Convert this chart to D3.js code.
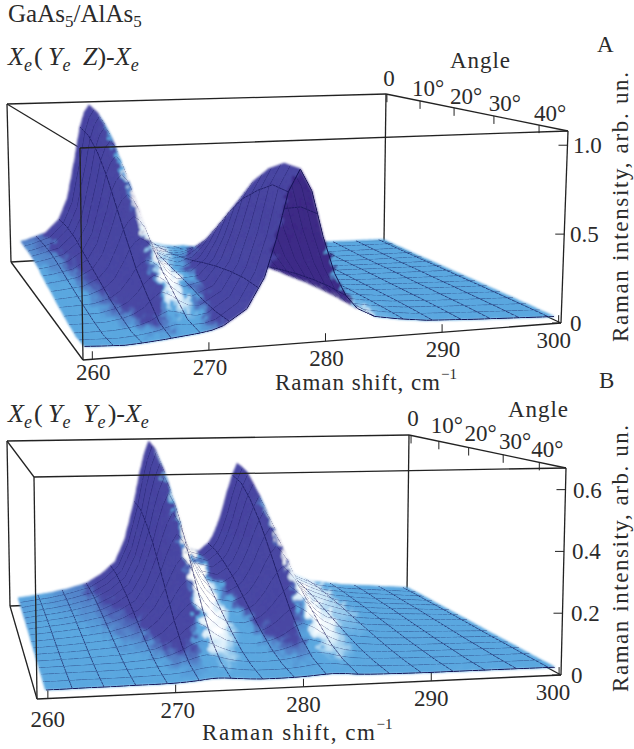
<!DOCTYPE html>
<html>
<head>
	<meta charset="utf-8">
	<title>GaAs5/AlAs5</title>
	<style>
		html, body { margin: 0; padding: 0; background: #fff; }
		text { font-family: "Liberation Serif", serif; fill: #2b2b2b; }
	</style>
</head>
<body>
<div id="chart"></div>
<script src="https://cdnjs.cloudflare.com/ajax/libs/d3/7.8.5/d3.min.js"></script>
<script type="text/javascript">

// tick labels
var shiftTicks = [260, 270, 280, 290, 300];
var angleTicks = [0, 10, 20, 30, 40];
var angleTickLabels = ['0', '10°', '20°', '30°', '40°'];
var intensityTicksA = [0, 0.5, 1.0];
var intensityTicksB = [0, 0.2, 0.4, 0.6];

// angle of each row of the tables below
var angles = [0, 5, 10, 15, 20, 25, 30, 35, 40, 45];

// panel A: one row per angle, one value per shift
var shiftA = [259.5, 261, 263, 264.5, 265.5, 266.5, 267.2, 268, 268.8, 269.5, 270.5, 271.5, 273.5, 275, 276, 277, 278, 279, 280, 281, 282, 283, 284.5, 286.5, 289, 293, 300];
var intensityA = [
	[.13, .15, .19, .28, .42, .73, .98, 1.06, .98, .73, .40, .22, .12, .08, .06, .05, .05, .04, .04, .03, .03, .03, .03, .02, .02, .02, .015],
	[.13, .15, .19, .28, .42, .71, .95, 1.03, .95, .71, .39, .22, .12, .09, .08, .08, .075, .065, .05, .045, .035, .03, .03, .025, .02, .02, .015],
	[.13, .15, .18, .26, .38, .65, .87, .94, .87, .65, .37, .21, .13, .11, .12, .15, .16, .14, .10, .07, .055, .04, .035, .03, .025, .02, .016],
	[.12, .13, .16, .22, .33, .56, .75, .81, .75, .56, .33, .20, .14, .15, .19, .25, .28, .24, .17, .115, .08, .06, .045, .037, .03, .024, .018],
	[.10, .11, .13, .18, .27, .45, .60, .65, .60, .46, .28, .18, .15, .19, .27, .375, .43, .37, .255, .17, .11, .08, .056, .045, .036, .03, .02],
	[.083, .09, .10, .14, .20, .325, .43, .47, .44, .34, .22, .16, .16, .245, .36, .52, .595, .51, .35, .23, .146, .10, .07, .055, .042, .033, .021],
	[.067, .07, .076, .10, .14, .216, .283, .307, .289, .234, .17, .14, .17, .29, .445, .64, .74, .64, .44, .28, .177, .12, .083, .064, .048, .037, .023],
	[.053, .052, .053, .069, .09, .13, .18, .22, .20, .16, .12, .11, .18, .327, .51, .73, .85, .73, .508, .321, .203, .135, .092, .071, .054, .041, .024],
	[.043, .041, .039, .046, .055, .07, .09, .105, .10, .09, .085, .10, .186, .35, .54, .80, .915, .80, .54, .35, .22, .146, .099, .076, .057, .044, .025],
	[.055, .05, .045, .05, .055, .06, .065, .07, .075, .08, .09, .11, .19, .35, .55, .80, .92, .80, .55, .35, .225, .15, .10, .078, .058, .044, .025]
];

// panel B
var shiftB = [259.5, 261, 263, 265, 267, 268.5, 270, 271, 272, 272.8, 273.5, 274.2, 275, 276, 277, 278.5, 279.8, 280.8, 281.8, 282.5, 283.4, 284.4, 285.4, 286.5, 288, 290, 293, 300];
var intensityB = [
	[.035, .041, .051, .066, .087, .121, .173, .264, .416, .581, .662, .591, .433, .295, .224, .204, .246, .345, .497, .564, .485, .321, .202, .137, .103, .066, .047, .023],
	[.032, .041, .05, .065, .085, .118, .169, .257, .405, .565, .643, .574, .421, .287, .218, .199, .24, .336, .483, .548, .471, .312, .197, .134, .101, .065, .047, .023],
	[.03, .038, .047, .06, .079, .108, .154, .234, .368, .513, .585, .522, .383, .262, .199, .182, .218, .306, .439, .498, .429, .284, .18, .123, .093, .06, .043, .022],
	[.028, .035, .043, .054, .07, .095, .134, .203, .317, .44, .501, .448, .329, .226, .173, .158, .189, .263, .377, .428, .368, .245, .156, .107, .082, .054, .04, .022],
	[.026, .032, .038, .046, .059, .079, .11, .163, .253, .35, .398, .356, .263, .182, .14, .128, .153, .211, .301, .34, .294, .197, .127, .088, .068, .046, .035, .021],
	[.024, .027, .032, .038, .046, .06, .082, .119, .181, .249, .282, .253, .188, .132, .102, .094, .111, .152, .214, .242, .209, .142, .093, .067, .053, .038, .03, .02],
	[.022, .024, .026, .03, .035, .044, .057, .08, .118, .159, .179, .161, .122, .087, .07, .065, .075, .1, .138, .155, .135, .094, .064, .048, .039, .03, .025, .019],
	[.02, .021, .022, .024, .026, .03, .037, .048, .066, .086, .095, .087, .068, .051, .043, .04, .046, .057, .076, .084, .074, .054, .04, .032, .028, .024, .022, .019],
	[.019, .019, .02, .02, .021, .023, .026, .03, .038, .046, .05, .047, .039, .032, .028, .027, .029, .034, .042, .045, .041, .033, .027, .024, .022, .02, .019, .018],
	[.018, .018, .019, .019, .02, .02, .021, .023, .026, .03, .031, .03, .027, .024, .022, .022, .023, .025, .028, .029, .028, .024, .022, .021, .02, .019, .019, .018]
];

var svg = d3.select('#chart')
.append('svg')
.attr('width', 634)
.attr('height', 749)
.style('display', 'block');

var defs = svg.append('defs');

// the scan in the reference is a little soft
defs.append('filter')
	.attr('id', 'soft')
	.attr('x', '-5%').attr('y', '-5%').attr('width', '110%').attr('height', '110%')
	.append('feGaussianBlur')
	.attr('stdDeviation', 0.45);

// blotchy colour edges inside the surface, the outline stays where it is
var blotch = defs.append('filter')
	.attr('id', 'blotch')
	.attr('x', '-5%').attr('y', '-5%').attr('width', '110%').attr('height', '110%');
blotch.append('feTurbulence')
	.attr('type', 'fractalNoise').attr('baseFrequency', 0.11).attr('numOctaves', 2).attr('seed', 4)
	.attr('result', 'noise');
blotch.append('feDisplacementMap')
	.attr('in', 'SourceGraphic').attr('in2', 'noise').attr('scale', 22)
	.attr('xChannelSelector', 'R').attr('yChannelSelector', 'G')
	.attr('result', 'moved');
blotch.append('feComposite')
	.attr('in', 'moved').attr('in2', 'SourceAlpha').attr('operator', 'in')
	.attr('result', 'inside');
var merge = blotch.append('feMerge').attr('result', 'both');
merge.append('feMergeNode').attr('in', 'SourceGraphic');
merge.append('feMergeNode').attr('in', 'inside');
blotch.append('feGaussianBlur').attr('in', 'both').attr('stdDeviation', 0.8);

// grid layer: cells painted white, lines black, white is keyed out
var keyed = defs.append('filter')
	.attr('id', 'keyed')
	.attr('color-interpolation-filters', 'sRGB')
	.attr('x', '-5%').attr('y', '-5%').attr('width', '110%').attr('height', '110%');
keyed.append('feColorMatrix')
	.attr('type', 'matrix')
	.attr('values', '0 0 0 0 0.07  0 0 0 0 0.07  0 0 0 0 0.33  -1 0 0 1 0');
keyed.append('feGaussianBlur').attr('stdDeviation', 0.25);

var mix = (a, b, t) => a + (b - a) * t;

// colour of the surface from its slope along the shift axis
var slopeColor = d3.scaleLinear()
.domain([-0.3, -0.05, -0.024, -0.008, 0.006, 0.03, 0.3])
.range(['#fbfbd8', '#ffffff', '#d4ebf9', '#5ba8e0', '#5ba8e0', '#4a48a4', '#4744a0'])
.clamp(true);

// the high parts stay dark even where they are flat
var heightShift = d3.scaleLinear().domain([0.15, 0.35]).range([0, 0.05]).clamp(true);

function draw(panel) {
	var g = svg.append('g');

	var xFrac = d3.scaleLinear().domain(panel.shiftDomain).range([0, 1]);
	var aFrac = d3.scaleLinear().domain(panel.angleDomain).range(panel.angleRange);
	var zFrac = d3.scaleLinear().domain([0, panel.top]).range([0, 1]);

	// box corners: b back, f front, l left, r right, on the floor and on the lid
	function corner(c, fx, fa) {
		return [
			mix(mix(c.bl[0], c.br[0], fx), mix(c.fl[0], c.fr[0], fx), fa),
			mix(mix(c.bl[1], c.br[1], fx), mix(c.fl[1], c.fr[1], fx), fa)
		];
	}
	function project(x, a, z) {
		var fx = xFrac(x), fa = aFrac(a), fz = zFrac(z);
		var p0 = corner(panel.floor, fx, fa), p1 = corner(panel.lid, fx, fa);
		return [mix(p0[0], p1[0], fz), mix(p0[1], p1[1], fz)];
	}

	// value on the table between its rows and columns
	var bisectX = d3.bisector(d => d).right;
	function surf(x, a) {
		var j = Math.min(Math.max(bisectX(panel.shift, x) - 1, 0), panel.shift.length - 2);
		var i = Math.min(Math.max(bisectX(angles, a) - 1, 0), angles.length - 2);
		var tx = (x - panel.shift[j]) / (panel.shift[j + 1] - panel.shift[j]);
		var ta = (a - angles[i]) / (angles[i + 1] - angles[i]);
		var t = panel.intensity;
		return mix(mix(t[i][j], t[i][j + 1], tx), mix(t[i + 1][j], t[i + 1][j + 1], tx), ta);
	}

	// the left end of the surface is not parallel to the box
	function node(x, a) {
		var xx = Math.max(x, mix(panel.leftEdge[0], panel.leftEdge[1], a / 45));
		return project(xx, a, surf(xx, a));
	}

	var line = d3.line();
	var stroke = (sel, w) => sel.attr('fill', 'none').attr('stroke', '#222').attr('stroke-width', w || 1.3);

	// box edges behind the surface
	var back = g.append('g').attr('filter', 'url(#soft)');
	var c0 = panel.floor, c1 = panel.lid;
	[[c0.bl, c1.bl], [c0.br, c1.br], [c0.bl, c0.br], [c0.bl, c0.fl], [c0.br, c0.fr], [c1.bl, c1.br], [c1.bl, c1.fl], [c1.br, c1.fr]].forEach(e => {
		back.append('path').attr('d', line(e)).call(stroke);
	});

	// mesh, painted from the far corner (angle 0, high shift) to the viewer
	var xs = d3.range(259.5, 300.01, 0.5);
	var as = d3.range(0, 45.01, 1);
	var cells = [], gridItems = [];
	as.slice(0, -1).forEach((a0, i) => {
		var a1 = as[i + 1];
		for (var j = xs.length - 2; j >= 0; j--) {
			var x0 = xs[j], x1 = xs[j + 1];
			var q = [node(x0, a0), node(x1, a0), node(x1, a1), node(x0, a1)];
			// d3.polygonArea is negative for this winding when the upper side shows
			var area = d3.polygonArea(q);
			if (Math.abs(area) < 0.01) continue;
			var xm = (x0 + x1) / 2, am = (a0 + a1) / 2;
			var slope = (surf(xm + 0.75, am) - surf(xm - 0.75, am)) / 1.5 / panel.top;
			var fill = area < 0 ? slopeColor(slope + heightShift(surf(xm, am) / panel.top)) : '#3e2a86';
			var d = line(q) + 'Z';
			cells.push({d: d, fill: fill});
			gridItems.push({d: d, fill: '#fff', stroke: '#fff', w: 0.7});
			// grid lines: every 3 degrees and every 2.5 cm-1
			if ((i + 1) % 3 == 0) {
				gridItems.push({d: line([q[3], q[2]]), fill: 'none', stroke: '#000', w: 1});
			}
			if ((j + 1) % 5 == 0) {
				gridItems.push({d: line([q[1], q[2]]), fill: 'none', stroke: '#000', w: 0.7});
			}
		}
	});

	g.append('g').attr('filter', 'url(#blotch)')
	.selectAll('path')
	.data(cells)
	.join('path')
	.attr('d', d => d.d)
	.attr('fill', d => d.fill)
	.attr('stroke', d => d.fill)
	.attr('stroke-width', 0.7);

	g.append('g').attr('filter', 'url(#keyed)')
	.selectAll('path')
	.data(gridItems)
	.join('path')
	.attr('d', d => d.d)
	.attr('fill', d => d.fill)
	.attr('stroke', d => d.stroke)
	.attr('stroke-width', d => d.w);

	// box edges in front of the surface
	var front = g.append('g').attr('filter', 'url(#soft)');
	[[c0.fl, c1.fl], [c0.fr, c1.fr], [c0.fl, c0.fr], [c1.fl, c1.fr]].forEach(e => {
		front.append('path').attr('d', line(e)).call(stroke);
	});

	// ticks
	var xEnd = panel.shiftDomain[1], aEnd = panel.angleDomain[panel.angleDomain.length - 1];
	shiftTicks.forEach(v => {
		var p = project(v, aEnd, 0);
		front.append('path').attr('d', line([p, [p[0], p[1] - 8]])).call(stroke, 1);
	});
	angleTicks.forEach(v => {
		var p = project(xEnd, v, panel.top);
		front.append('path').attr('d', line([p, [p[0], p[1] + 8]])).call(stroke, 1);
	});
	panel.intensityTicks.forEach(v => {
		var p = project(xEnd, aEnd, v);
		front.append('path').attr('d', line([p, [p[0] - 9, p[1]]])).call(stroke, 1);
	});

	// tick labels
	function label(x, y, s, anchor) {
		return g.append('text')
			.attr('x', x).attr('y', y)
			.attr('text-anchor', anchor || 'middle')
			.style('font-size', panel.fontSize + 'px')
			.text(s);
	}
	shiftTicks.forEach((v, i) => {
		var p = project(v, aEnd, 0);
		label(p[0] + panel.shiftOffset[i][0], p[1] + panel.shiftOffset[i][1], v);
	});
	angleTicks.forEach((v, i) => {
		var p = project(xEnd, v, panel.top);
		label(p[0] + panel.angleOffset[i][0], p[1] + panel.angleOffset[i][1], angleTickLabels[i]);
	});
	panel.intensityTicks.forEach((v, i) => {
		var p = project(xEnd, aEnd, v);
		label(panel.intensityX[i], p[1] + 8, v == 0 ? '0' : d3.format('.1f')(v), 'start');
	});

	// titles
	label(panel.angleTitle[0], panel.angleTitle[1], 'Angle', 'start').attr('textLength', 60);
	label(panel.letter[0], panel.letter[1], panel.name, 'start');

	var xt = label(panel.shiftTitle[0], panel.shiftTitle[1], null, 'start');
	xt.append('tspan').text('Raman shift, cm').attr('textLength', panel.shiftTitle[2]);
	xt.append('tspan').text('−1').attr('dy', -11).style('font-size', '15px');

	g.append('text')
		.attr('transform', 'translate(628,' + panel.yTitle[0] + ') rotate(-90)')
		.attr('textLength', panel.yTitle[1])
		.style('font-size', panel.fontSize + 'px')
		.text('Raman intensity, arb. un.');

	// part: [text, kind], kind is i italic, s italic subscript, r upright
	var gt = label(8, panel.geometry[0], null, 'start').style('font-size', '26px');
	panel.geometry[1].forEach(part => {
		if (part[1] == 's') {
			gt.append('tspan').text(part[0]).attr('dy', 6).style('font-size', '18px').style('font-style', 'italic');
			gt.append('tspan').text('\u200a').attr('dy', -6);
		} else {
			gt.append('tspan').text(part[0]).style('font-style', part[1] == 'i' ? 'italic' : 'normal');
		}
	});
}

// heading of the page
var head = svg.append('text').attr('x', 8).attr('y', 22).style('font-size', '25px');
head.append('tspan').text('GaAs');
head.append('tspan').text('5').attr('dy', 5).style('font-size', '17px');
head.append('tspan').text('/AlAs').attr('dy', -5);
head.append('tspan').text('5').attr('dy', 5).style('font-size', '17px');

draw({
	name: 'A',
	shift: shiftA,
	intensity: intensityA,
	intensityTicks: intensityTicksA,
	top: 1.08,
	shiftDomain: [259.2, 300.2],
	angleDomain: [0, 10, 20, 30, 40, 46],
	angleRange: [0.005, 0.187, 0.374, 0.593, 0.841, 1],
	leftEdge: [260.3, 259.5],
	floor: {bl: [11, 262], br: [384, 241], fl: [83, 360], fr: [561, 323]},
	lid: {bl: [7, 104], br: [386, 94], fl: [80, 148], fr: [568, 131]},
	fontSize: 23,
	shiftOffset: [[1, 21], [1, 25], [1, 25], [1, 25], [-5, 25]],
	angleOffset: [[2, -8], [8, -5], [12, -4], [11, -5], [11, -4]],
	intensityX: [570, 570, 573],
	angleTitle: [450, 68],
	letter: [597, 52],
	shiftTitle: [275, 390, 165],
	yTitle: [342, 270],
	geometry: [65, [['X', 'i'], ['e', 's'], ['(\u2009', 'r'], ['Y', 'i'], ['e', 's'], ['\u2009\u2009Z', 'i'], [')-', 'r'], ['X', 'i'], ['e', 's']]]
});

draw({
	name: 'B',
	shift: shiftB,
	intensity: intensityB,
	intensityTicks: intensityTicksB,
	top: 0.67,
	shiftDomain: [259.15, 300.15],
	angleDomain: [0, 10, 20, 30, 40, 46],
	angleRange: [0.013, 0.19, 0.38, 0.6, 0.83, 1],
	leftEdge: [260, 259.9],
	floor: {bl: [10, 606], br: [407, 592], fl: [37, 699], fr: [561, 675]},
	lid: {bl: [7, 441], br: [409, 435], fl: [34, 477], fr: [566, 468]},
	fontSize: 23,
	shiftOffset: [[0, 28], [2, 25], [0, 25], [0, 25], [-6, 25]],
	angleOffset: [[2, -9], [8, -8], [12, -7], [12, -6], [8, -5]],
	intensityX: [571, 571, 572, 573],
	angleTitle: [508, 417],
	letter: [599, 388],
	shiftTitle: [202, 740, 173],
	yTitle: [692, 267],
	geometry: [422, [['X', 'i'], ['e', 's'], ['(\u2009', 'r'], ['Y', 'i'], ['e', 's'], ['\u2009\u2009Y', 'i'], ['e', 's'], [')-', 'r'], ['X', 'i'], ['e', 's']]]
});

</script>
</body>
</html>
